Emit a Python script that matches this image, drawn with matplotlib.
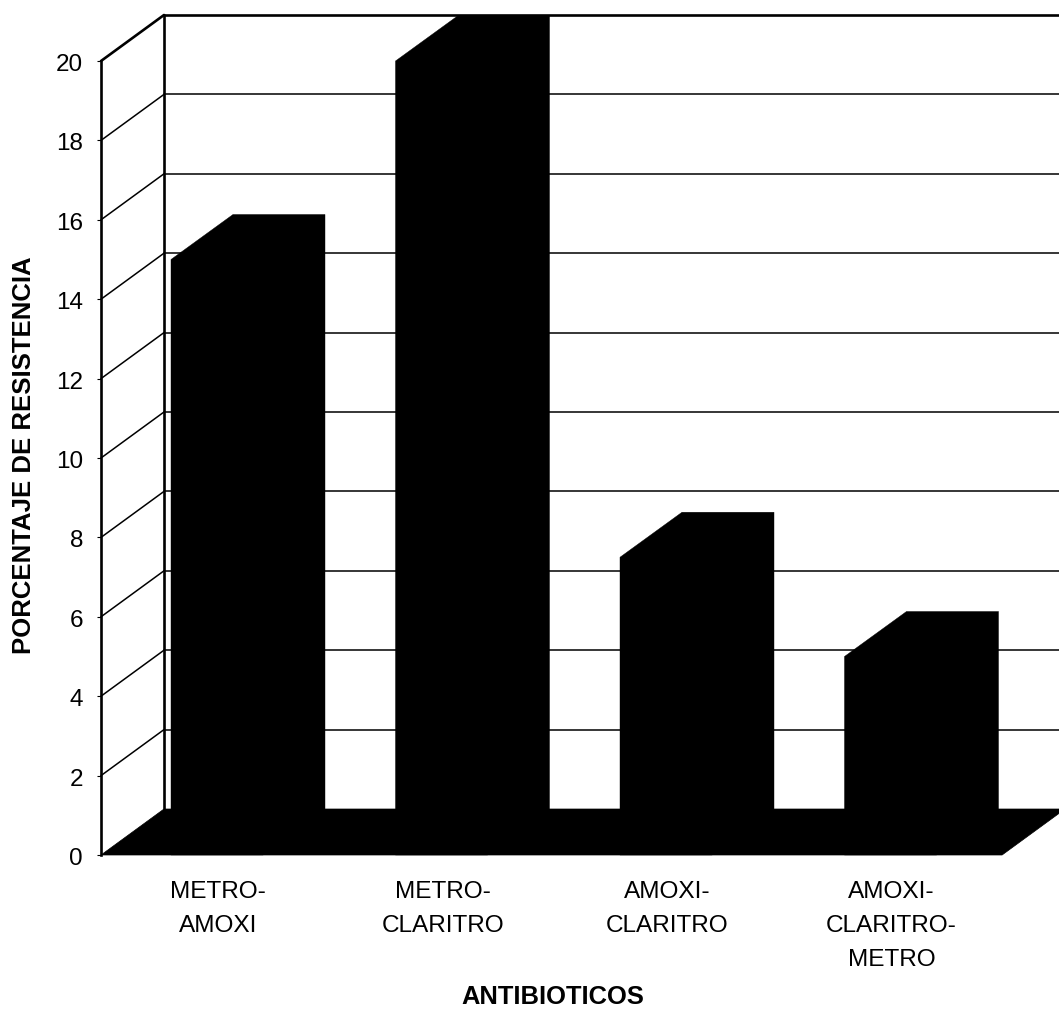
import matplotlib
matplotlib.use("Agg")
import matplotlib.pyplot as plt
from matplotlib.patches import Polygon
from matplotlib.transforms import ScaledTranslation

plt.rcParams["font.family"] = ["Liberation Sans", "DejaVu Sans"]

# Resistance percentage per antibiotic combination
categories = ["METRO-\nAMOXI", "METRO-\nCLARITRO", "AMOXI-\nCLARITRO", "AMOXI-\nCLARITRO-\nMETRO"]
resistance = [15, 20, 7.5, 5]
y_ticks = [0, 2, 4, 6, 8, 10, 12, 14, 16, 18, 20]

W, H = 1059, 1010
fig = plt.figure(figsize=(W / 100, H / 100), dpi=100, facecolor="white")
left, right, base, top = 101, 1059, 855, 61
ax = fig.add_axes([left / W, 1 - base / H, (right - left) / W, (base - top) / H])

# One category unit is 224.5 px; the first bar's front face is centred on x = 0
ax.set_xlim((left - 217) / 224.5, (right - 217) / 224.5)
ax.set_ylim(0, 20)
x0, x1 = ax.get_xlim()
floor_end = 3.497

# Oblique depth of the 3D box, in data units
dx, dy = 63 / 224.5, 46 / 39.7
bar_w = 92 / 224.5
depth_x, depth_y = 62 / 224.5, 45 / 39.7

line = dict(color="black", clip_on=False, solid_capstyle="round")

# Back wall gridlines and their return along the side wall
for v in y_ticks[1:]:
    lw = 1.9 if v == 20 else 1.1
    ax.plot([x0 + dx, floor_end + dx], [v + dy, v + dy], lw=lw, zorder=1, **line)
    ax.plot([x0, x0 + dx], [v, v + dy], lw=lw, zorder=1, **line)
ax.plot([x0 + dx, x0 + dx], [dy, 20 + dy], lw=1.9, zorder=1, **line)

# Floor
ax.add_patch(Polygon([(x0, 0), (floor_end, 0), (floor_end + dx, dy), (x0 + dx, dy)],
                     closed=True, fc="black", ec="black", lw=0.5, clip_on=False, zorder=2))

# Bars: a solid black outline of the front, top and side faces
for i, v in enumerate(resistance):
    xl, xr = i - bar_w / 2, i + bar_w / 2
    outline = [
        (xl, 0), (xl, v), (xl + depth_x, v + depth_y),
        (xr + depth_x, v + depth_y), (xr + depth_x, depth_y), (xr, 0),
    ]
    ax.add_patch(Polygon(outline, closed=True, fc="black", ec="black", lw=0.3,
                         clip_on=False, zorder=3))

for side in ("top", "right", "bottom"):
    ax.spines[side].set_visible(False)
ax.spines["left"].set_linewidth(1.9)
ax.spines["left"].set_zorder(4)

ax.set_yticks(y_ticks)
ax.tick_params(axis="y", labelsize=17.5, length=3, width=0.8, pad=10)
nudge = ScaledTranslation(0, -1.5 / 100, fig.dpi_scale_trans)
for label in ax.get_yticklabels():
    label.set_transform(label.get_transform() + nudge)

ax.set_xticks([i + 0.005 for i in range(len(categories))])
ax.set_xticklabels(categories, fontsize=17.6, linespacing=1.7)
ax.tick_params(axis="x", length=0, pad=19)

fig.text(553 / W, 1 - 997 / H, "ANTIBIOTICOS", fontsize=18.4, fontweight="bold",
         ha="center", va="center")
fig.text(24 / W, 1 - 455.5 / H, "PORCENTAJE DE RESISTENCIA", fontsize=18.5, fontweight="bold",
         rotation=90, ha="center", va="center")

fig.savefig("out.png", dpi=100)
